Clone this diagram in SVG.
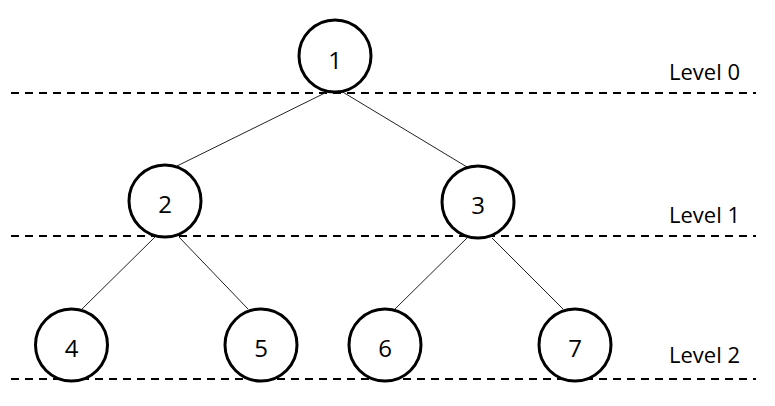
<svg xmlns="http://www.w3.org/2000/svg" width="775" height="406" viewBox="0 0 775 406">
<style>
.node circle{fill:#fff;stroke:#000;stroke-width:3}
.node text{font-family:"Open Sans","Liberation Sans",sans-serif;font-size:24px;text-anchor:middle;fill:#000}
.edge{stroke:#222;stroke-width:1;fill:none}
.level{stroke:#000;stroke-width:2;stroke-dasharray:8 6;fill:none}
.lbl{font-family:"Open Sans","Liberation Sans",sans-serif;font-size:22px;fill:#000}
</style>
<rect width="775" height="406" fill="#fff"/>
<g id="levels">
<line class="level" x1="11" y1="93" x2="756" y2="93"/>
<line class="level" x1="11" y1="236" x2="756" y2="236"/>
<line class="level" x1="11" y1="379" x2="756" y2="379"/>
<text class="lbl" x="669" y="80">Level 0</text>
<text class="lbl" x="669" y="223">Level 1</text>
<text class="lbl" x="669" y="363">Level 2</text>
</g>
<g id="connectors">
<line class="edge" x1="329" y1="91" x2="177" y2="166"/>
<line class="edge" x1="341" y1="91" x2="467" y2="167"/>
<line class="edge" x1="155" y1="237" x2="82" y2="309"/>
<line class="edge" x1="179" y1="237" x2="248" y2="309"/>
<line class="edge" x1="467" y1="238" x2="395" y2="309"/>
<line class="edge" x1="492" y1="238" x2="563" y2="309"/>
</g>
<g id="n1" class="node"><circle cx="335" cy="56" r="36"/><text x="335" y="69">1</text></g>
<g id="n2" class="node"><circle cx="165" cy="201" r="36"/><text x="165" y="213">2</text></g>
<g id="n3" class="node"><circle cx="478" cy="202" r="36"/><text x="478" y="214">3</text></g>
<g id="n4" class="node"><circle cx="71.5" cy="345" r="36"/><text x="71.5" y="357">4</text></g>
<g id="n5" class="node"><circle cx="261" cy="345" r="36"/><text x="261" y="357">5</text></g>
<g id="n6" class="node"><circle cx="385" cy="345" r="36"/><text x="385" y="357">6</text></g>
<g id="n7" class="node"><circle cx="575" cy="345" r="36"/><text x="575" y="357">7</text></g>
</svg>
